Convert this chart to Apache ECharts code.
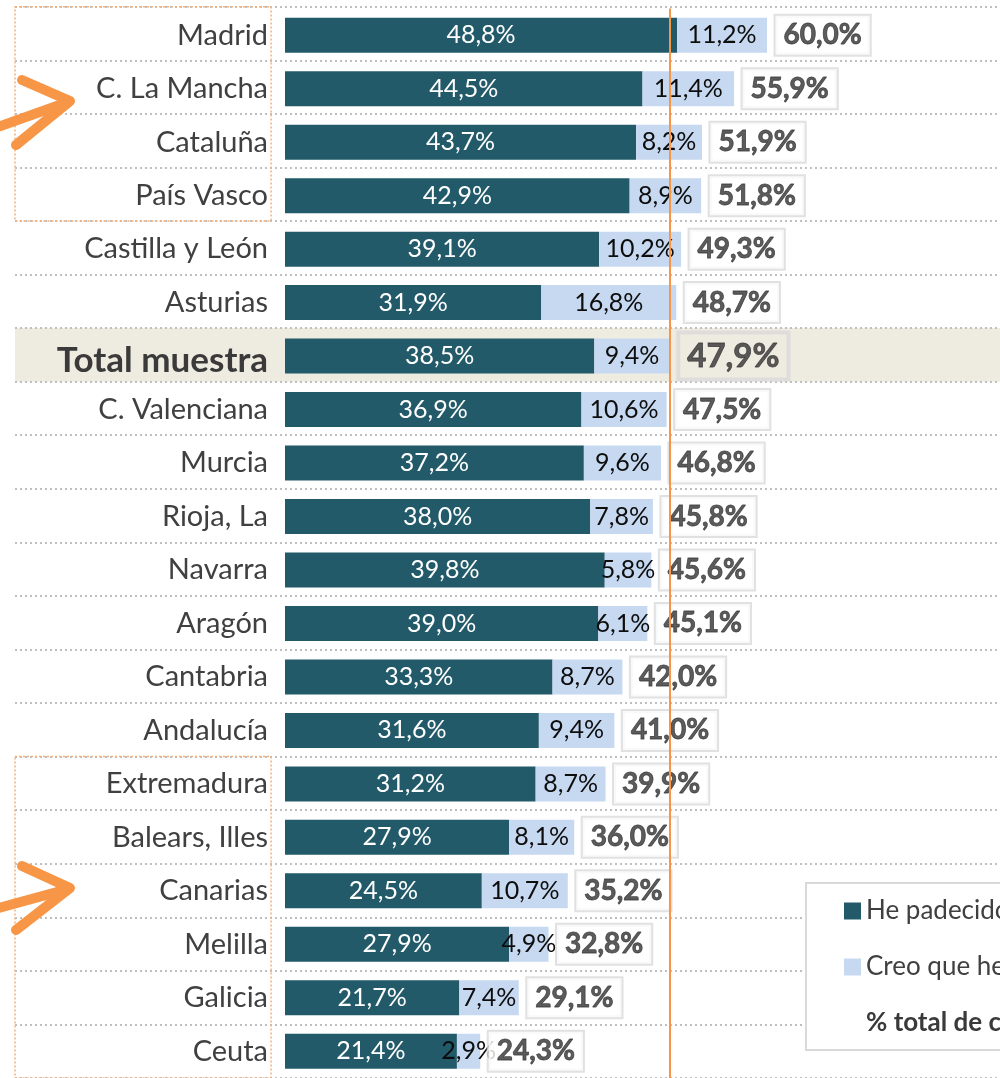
<!DOCTYPE html>
<html>
<head>
<meta charset="utf-8">
<script src="https://cdn.jsdelivr.net/npm/echarts@6/dist/echarts.min.js"></script>
<style>
html,body{margin:0;padding:0;background:#fff;}
#chart{width:1000px;height:1078px;}
</style>
</head>
<body>
<div id="chart"></div>
<script>
const categories = ['Madrid','C. La Mancha','Cataluña','País Vasco','Castilla y León','Asturias','Total muestra','C. Valenciana','Murcia','Rioja, La','Navarra','Aragón','Cantabria','Andalucía','Extremadura','Balears, Illes','Canarias','Melilla','Galicia','Ceuta'];
const padecido = [48.8,44.5,43.7,42.9,39.1,31.9,38.5,36.9,37.2,38.0,39.8,39.0,33.3,31.6,31.2,27.9,24.5,27.9,21.7,21.4];
const creo = [11.2,11.4,8.2,8.9,10.2,16.8,9.4,10.6,9.6,7.8,5.8,6.1,8.7,9.4,8.7,8.1,10.7,4.9,7.4,2.9];
const totales = [60.0,55.9,51.9,51.8,49.3,48.7,47.9,47.5,46.8,45.8,45.6,45.1,42.0,41.0,39.9,36.0,35.2,32.8,29.1,24.3];
const seriesNames = ['He padecido acoso laboral','Creo que he padecido acoso laboral','% total de casos de acoso laboral'];
const totalCategory = 'Total muestra';
const referenceValue = 47.9;
const highlightGroups = [['Madrid','País Vasco'],['Extremadura','Ceuta']];

const FONT = 'Lato';
const fmt = v => v.toFixed(1).replace('.', ',') + '%';
const totalIdx = categories.indexOf(totalCategory);

const chart = echarts.init(document.getElementById('chart'), null, {renderer:'canvas'});

const beigeData = categories.map((c,i) => i === totalIdx ? 1 : null);
const boxData = highlightGroups.map(g => [0, categories.indexOf(g[0]), categories.indexOf(g[1])]);
const totalData = categories.map((c,i) => {
  const item = {value:[totales[i], c]};
  if (i === totalIdx) item.label = {fontSize:33, backgroundColor:'transparent', padding:[8,9,6,9]};
  return item;
});

const option = {
  animation:false,
  textStyle:{fontFamily:FONT},
  grid:[
    {left:285, top:8.5, width:717, height:1071, containLabel:false},
    {left:15, top:6.7, width:985, height:1079.6, containLabel:false}
  ],
  xAxis:[
    {gridIndex:0, type:'value', min:0, max:89, show:false},
    {gridIndex:1, type:'value', min:0, max:1, show:false}
  ],
  yAxis:[
    {gridIndex:0, type:'category', data:categories, inverse:true,
     axisLine:{show:false}, axisTick:{show:false}, splitLine:{show:false},
     axisLabel:{margin:17, fontSize:29, color:'#404040', fontFamily:FONT,
       formatter: v => v === totalCategory ? '{t|' + v + '}' : v,
       rich:{t:{fontSize:35, fontWeight:'bold', color:'#3a3a3a', fontFamily:FONT, padding:[9,0,0,0]}}}},
    {gridIndex:1, type:'category', data:categories, inverse:true,
     axisLine:{show:false}, axisTick:{show:false}, axisLabel:{show:false},
     splitLine:{show:true, lineStyle:{color:'#bfbfbf', width:2, type:[2,3]}}}
  ],
  legend:{
    orient:'vertical', left:806, top:883,
    backgroundColor:'#fff', borderColor:'#d9d9d9', borderWidth:2,
    padding:[13,20,12,38], itemGap:26, itemWidth:17, itemHeight:17, icon:'rect',
    textStyle:{fontSize:26, color:'#404040', fontFamily:FONT, lineHeight:30},
    data:[
      {name:seriesNames[0]},
      {name:seriesNames[1]},
      {name:seriesNames[2], itemStyle:{color:'transparent'}, textStyle:{fontWeight:'bold', color:'#3a3a3a'}}
    ]
  },
  graphic:[
    {type:'polyline', shape:{points:[[22,80],[70,101],[16,145]]}, style:{stroke:'#f79646', lineWidth:10, fill:null, lineCap:'round', lineJoin:'round'}, z:10},
    {type:'polyline', shape:{points:[[-5,128],[68,102]]}, style:{stroke:'#f79646', lineWidth:10, fill:null, lineCap:'round'}, z:10},
    {type:'polyline', shape:{points:[[22,866],[70,888],[16,930]]}, style:{stroke:'#f79646', lineWidth:10, fill:null, lineCap:'round', lineJoin:'round'}, z:10},
    {type:'polyline', shape:{points:[[-5,909],[68,889]]}, style:{stroke:'#f79646', lineWidth:10, fill:null, lineCap:'round'}, z:10}
  ],
  series:[
    {name:'beige', type:'bar', xAxisIndex:1, yAxisIndex:1, data:beigeData, barWidth:'100%',
     itemStyle:{color:'#eeece1'}, z:-1, silent:true, legendHoverLink:false},
    {name:'boxes', type:'custom', xAxisIndex:1, yAxisIndex:1, data:boxData, clip:false, silent:true, z:5,
     encode:{x:0, y:[1,2]},
     renderItem:(params, api) => {
       const band = api.size([0,1])[1];
       const y0 = api.coord([0, api.value(1)])[1] - band/2;
       const y1 = api.coord([0, api.value(2)])[1] + band/2;
       const x0 = params.coordSys.x;
       const x1 = api.coord([0.26, 0])[0];
       return {type:'rect', shape:{x:x0, y:y0, width:x1-x0, height:y1-y0},
         style:{fill:null, stroke:'#f8b07a', lineWidth:1.5, lineDash:[2,2]}};
     }},
    {name:seriesNames[0], type:'bar', stack:'t', data:padecido, barWidth:35,
     itemStyle:{color:'#225a69'},
     label:{show:true, position:'inside', color:'#fff', fontSize:25, fontFamily:FONT, formatter:p => fmt(p.value)},
     markLine:{silent:true, symbol:'none', label:{show:false},
       lineStyle:{color:'#f79646', width:2, type:'solid'}, data:[{xAxis:referenceValue}]}},
    {name:seriesNames[1], type:'bar', stack:'t', data:creo, barWidth:35,
     itemStyle:{color:'#c6d9f1'},
     label:{show:true, position:'inside', color:'#0d0d0d', fontSize:25, fontFamily:FONT, formatter:p => fmt(p.value)}},
    {name:seriesNames[2], type:'scatter', data:totalData, symbolSize:1,
     itemStyle:{color:'transparent'},
     label:{show:true, position:'right', distance:8, color:'#333333', fontSize:28, fontWeight:'bold', fontFamily:FONT,
       textBorderColor:'#333333', textBorderWidth:0.8,
       backgroundColor:'#fff', borderColor:'#d9d9d9', borderWidth:2, padding:[6,8,5,8],
       formatter:p => fmt(p.value[0])}, z:4}
  ]
};
chart.setOption(option);
</script>
</body>
</html>
